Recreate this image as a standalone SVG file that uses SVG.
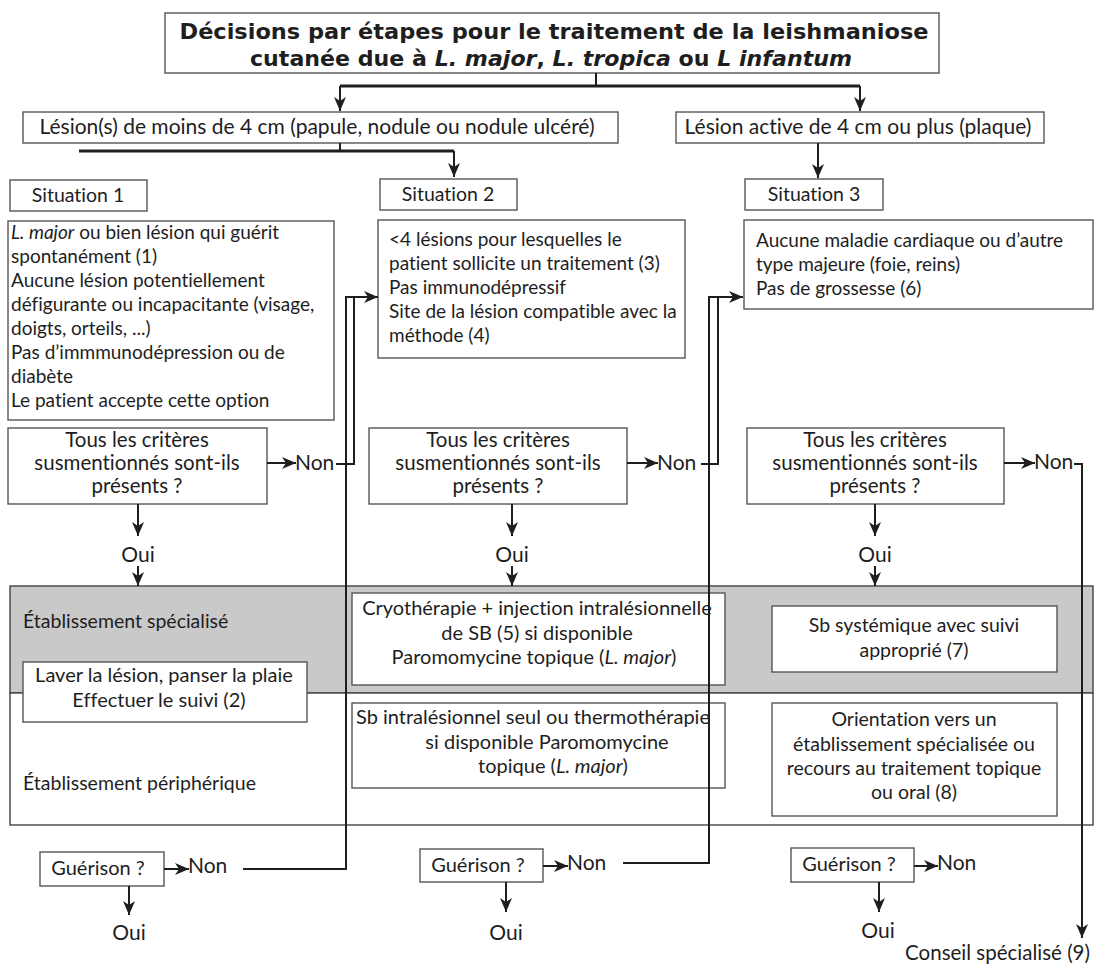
<svg xmlns="http://www.w3.org/2000/svg" width="1095" height="964" viewBox="0 0 1095 964">
<style>
text{font-family:Lato,"Open Sans","Liberation Sans",sans-serif;fill:#1e1e1e;font-size:19.5px;font-variant-ligatures:none}
.c{text-anchor:middle}
.t{font-family:"DejaVu Sans","Liberation Sans",sans-serif;font-weight:bold;font-size:21px}
.l{font-size:21px}
.q{font-size:20.5px}
.cr{font-size:19px}
.tr{font-size:20px}
.box{fill:#fff;stroke:#555;stroke-width:1.4}
.ln{fill:none;stroke:#1e1e1e;stroke-width:2}
.thk{fill:none;stroke:#1e1e1e;stroke-width:3.2}
.i{font-style:italic}
</style>
<defs>
<marker id="ah" markerUnits="userSpaceOnUse" markerWidth="16" markerHeight="12" refX="14" refY="6" orient="auto">
<path d="M0,0 L14,6 L0,12 L4,6 z" fill="#1e1e1e"/>
</marker>
</defs>
<rect width="1095" height="964" fill="#fff"/>

<g id="band">
<rect x="10" y="586" width="1083" height="107" fill="#c9c9c9" stroke="#444" stroke-width="1.4"/>
<rect x="10" y="693" width="1083" height="132" fill="#fff" stroke="#444" stroke-width="1.4"/>
<text x="23" y="628">Établissement spécialisé</text>
<text x="23" y="790">Établissement périphérique</text>
</g>

<g id="title">
<rect class="box" x="165" y="13" width="774" height="60"/>
<text class="t c" x="554" y="39" textLength="749" lengthAdjust="spacingAndGlyphs">Décisions par étapes pour le traitement de la leishmaniose</text>
<text class="t c" x="551" y="66" textLength="602" lengthAdjust="spacingAndGlyphs">cutanée due à <tspan class="i">L. major</tspan>, <tspan class="i">L. tropica</tspan> ou <tspan class="i">L infantum</tspan></text>
</g>

<g id="lesion-small">
<rect class="box" x="23" y="112" width="595" height="31"/>
<text class="l c" x="317" y="134">Lésion(s) de moins de 4 cm (papule, nodule ou nodule ulcéré)</text>
</g>
<g id="lesion-large">
<rect class="box" x="676" y="112" width="368" height="31"/>
<text class="l c" x="858" y="134">Lésion active de 4 cm ou plus (plaque)</text>
</g>

<g id="situation1">
<rect class="box" x="10" y="180" width="137" height="31"/>
<text class="c" x="78" y="202">Situation 1</text>
</g>
<g id="situation2">
<rect class="box" x="380" y="179" width="137" height="31"/>
<text class="c" x="448" y="201">Situation 2</text>
</g>
<g id="situation3">
<rect class="box" x="745" y="179" width="138" height="31"/>
<text class="c" x="814" y="201">Situation 3</text>
</g>

<g id="criteria1">
<rect class="box" x="8" y="221" width="326" height="199"/>
<text class="cr" x="11" y="239"><tspan class="i">L. major</tspan> ou bien lésion qui guérit</text>
<text class="cr" x="11" y="263">spontanément (1)</text>
<text class="cr" x="11" y="287">Aucune lésion potentiellement</text>
<text class="cr" x="11" y="311">défigurante ou incapacitante (visage,</text>
<text class="cr" x="11" y="335">doigts, orteils, ...)</text>
<text class="cr" x="11" y="359">Pas d’immmunodépression ou de</text>
<text class="cr" x="11" y="383">diabète</text>
<text class="cr" x="11" y="407">Le patient accepte cette option</text>
</g>
<g id="criteria2">
<rect class="box" x="378" y="220" width="307" height="138"/>
<text class="cr" x="389" y="246">&lt;4 lésions pour lesquelles le</text>
<text class="cr" x="389" y="270">patient sollicite un traitement (3)</text>
<text class="cr" x="389" y="294">Pas immunodépressif</text>
<text class="cr" x="389" y="318">Site de la lésion compatible avec la</text>
<text class="cr" x="389" y="342">méthode (4)</text>
</g>
<g id="criteria3">
<rect class="box" x="744" y="220" width="349" height="89"/>
<text class="cr" x="756" y="247">Aucune maladie cardiaque ou d’autre</text>
<text class="cr" x="756" y="271">type majeure (foie, reins)</text>
<text class="cr" x="756" y="295">Pas de grossesse (6)</text>
</g>

<g id="question1">
<rect class="box" x="8" y="428" width="259" height="76"/>
<text class="q c" x="137" y="447">Tous les critères</text>
<text class="q c" x="137" y="470">susmentionnés sont-ils</text>
<text class="q c" x="137" y="493">présents ?</text>
</g>
<g id="question2">
<rect class="box" x="369" y="428" width="258" height="76"/>
<text class="q c" x="498" y="447">Tous les critères</text>
<text class="q c" x="498" y="470">susmentionnés sont-ils</text>
<text class="q c" x="498" y="493">présents ?</text>
</g>
<g id="question3">
<rect class="box" x="747" y="428" width="257" height="76"/>
<text class="q c" x="875" y="447">Tous les critères</text>
<text class="q c" x="875" y="470">susmentionnés sont-ils</text>
<text class="q c" x="875" y="493">présents ?</text>
</g>

<g id="treat-local">
<rect class="box" x="23" y="662" width="284" height="60"/>
<text class="tr c" x="164" y="682">Laver la lésion, panser la plaie</text>
<text class="tr c" x="159" y="707">Effectuer le suivi (2)</text>
</g>
<g id="treat-cryo">
<rect class="box" x="352" y="593" width="373" height="92"/>
<text class="tr c" x="537" y="615">Cryothérapie + injection intralésionnelle</text>
<text class="tr c" x="537" y="640">de SB (5) si disponible</text>
<text class="tr c" x="534" y="664">Paromomycine topique (<tspan class="i">L. major</tspan>)</text>
</g>
<g id="treat-sb-il">
<rect class="box" x="352" y="703" width="373" height="85"/>
<text class="tr c" x="533" y="724">Sb intralésionnel seul ou thermothérapie</text>
<text class="tr c" x="547" y="749">si disponible  Paromomycine</text>
<text class="tr c" x="553" y="773">topique (<tspan class="i">L. major</tspan>)</text>
</g>
<g id="treat-sb-sys">
<rect class="box" x="772" y="606" width="285" height="66"/>
<text class="c" x="914" y="632">Sb systémique avec suivi</text>
<text class="c" x="914" y="657">approprié (7)</text>
</g>
<g id="treat-orient">
<rect class="box" x="772" y="703" width="285" height="113"/>
<text class="c" x="914" y="726">Orientation vers un</text>
<text class="c" x="914" y="751">établissement spécialisée ou</text>
<text class="c" x="914" y="775">recours au traitement topique</text>
<text class="c" x="914" y="799">ou oral (8)</text>
</g>

<g id="cure1">
<rect class="box" x="40" y="852" width="124" height="34"/>
<text class="tr c" x="98" y="875">Guérison ?</text>
</g>
<g id="cure2">
<rect class="box" x="420" y="849" width="123" height="33"/>
<text class="tr c" x="478" y="872">Guérison ?</text>
</g>
<g id="cure3">
<rect class="box" x="791" y="848" width="123" height="34"/>
<text class="tr c" x="849" y="871">Guérison ?</text>
</g>

<g id="labels">
<text class="l" x="295" y="470">Non</text>
<text class="l" x="657" y="470">Non</text>
<text class="l" x="1034" y="469">Non</text>
<text class="l c" x="138" y="562">Oui</text>
<text class="l c" x="512" y="562">Oui</text>
<text class="l c" x="875" y="562">Oui</text>
<text class="l" x="188" y="873">Non</text>
<text class="l" x="567" y="870">Non</text>
<text class="l" x="937" y="870">Non</text>
<text class="l c" x="129" y="940">Oui</text>
<text class="l c" x="506" y="940">Oui</text>
<text class="l c" x="878" y="938">Oui</text>
<text class="tr" x="1090" y="960" text-anchor="end" style="font-size:20.5px">Conseil spécialisé (9)</text>
</g>

<g id="connectors">
<path class="ln" d="M596,73 V86"/>
<path class="thk" d="M340,86 H860"/>
<path class="ln" d="M340,86 V111" marker-end="url(#ah)"/>
<path class="ln" d="M860,86 V111" marker-end="url(#ah)"/>
<path class="ln" d="M340,143 V151"/>
<path class="thk" d="M79,151 H454"/>
<path class="ln" d="M454,151 V177" marker-end="url(#ah)"/>
<path class="ln" d="M818,143 V178" marker-end="url(#ah)"/>

<path class="ln" d="M267,463 H296" marker-end="url(#ah)"/>
<path class="ln" d="M627,463 H658" marker-end="url(#ah)"/>
<path class="ln" d="M1004,463 H1035" marker-end="url(#ah)"/>

<path class="ln" d="M336,464 H354 V297"/>
<path class="ln" d="M243,869 H346 V297 H378" marker-end="url(#ah)"/>
<path class="ln" d="M701,464 H718 V297"/>
<path class="ln" d="M623,863 H709 V297 H743" marker-end="url(#ah)"/>
<path class="ln" d="M1074,464 H1082 V938" marker-end="url(#ah)"/>

<path class="ln" d="M138,504 V536" marker-end="url(#ah)"/>
<path class="ln" d="M138,566 V586" marker-end="url(#ah)"/>
<path class="ln" d="M512,504 V536" marker-end="url(#ah)"/>
<path class="ln" d="M512,566 V586" marker-end="url(#ah)"/>
<path class="ln" d="M875,504 V536" marker-end="url(#ah)"/>
<path class="ln" d="M875,566 V586" marker-end="url(#ah)"/>

<path class="ln" d="M164,869 H189" marker-end="url(#ah)"/>
<path class="ln" d="M543,866 H568" marker-end="url(#ah)"/>
<path class="ln" d="M914,866 H938" marker-end="url(#ah)"/>
<path class="ln" d="M129,886 V915" marker-end="url(#ah)"/>
<path class="ln" d="M506,882 V912" marker-end="url(#ah)"/>
<path class="ln" d="M879,882 V912" marker-end="url(#ah)"/>
</g>
</svg>
